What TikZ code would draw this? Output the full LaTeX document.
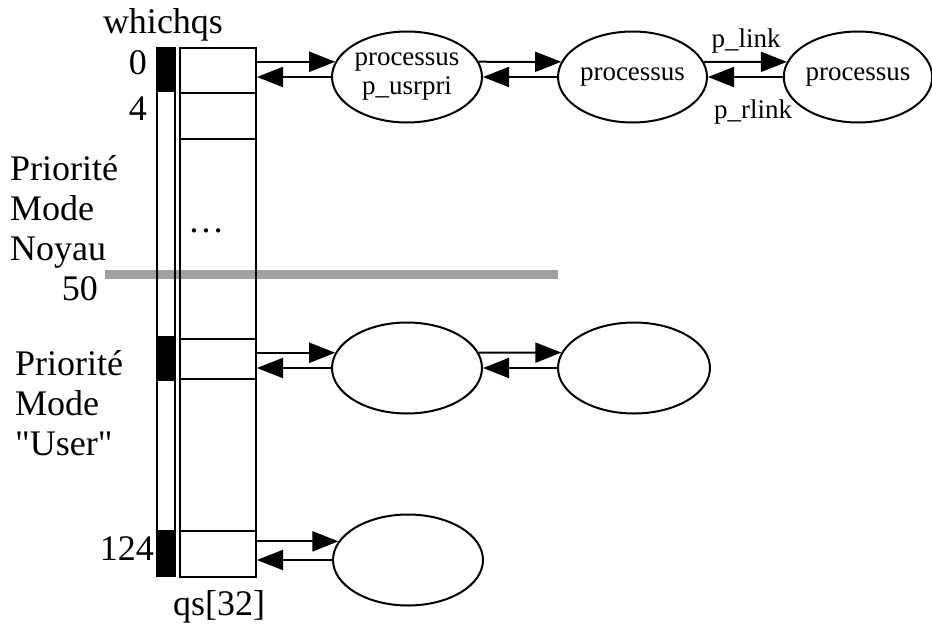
\documentclass[tikz,border=0pt]{standalone}
\usepackage{fontspec}
\setmainfont{Liberation Serif}
\usetikzlibrary{arrows.meta,shapes.geometric}
\definecolor{sepgray}{RGB}{160,160,160}
\begin{document}
\begin{tikzpicture}[x=1pt,y=-1pt,
  big/.style={font=\fontsize{36}{40}\selectfont, inner sep=0pt},
  small/.style={font=\fontsize{27}{29}\selectfont, inner sep=0pt},
  cell/.style={draw, line width=2pt, minimum width=76pt, inner sep=0pt},
  proc/.style={draw, ellipse, line width=2pt, minimum width=150pt, minimum height=91pt, inner sep=0pt, align=center, font=\fontsize{27}{29}\selectfont},
  link/.style={line width=2pt, -{Triangle[length=26pt,width=20pt]}},
]
\useasboundingbox (0,0) rectangle (932,624);

% separator between kernel and user priorities
\coordinate (sepL) at (105,274);
\coordinate (sepR) at (558,274);
\draw[line width=9pt, sepgray] (sepL) -- (sepR);

% whichqs bit column
\draw[line width=2pt] (157,48) rectangle (175,576);
\fill (156,47) rectangle (176,92);
\fill (156,336) rectangle (176,381);
\fill (156,530) rectangle (176,577);

% qs[32] column
\node[cell, minimum height=45pt]  (qs0)  at (218,70.5) {};
\node[cell, minimum height=46pt]  (qs1)  at (218,116) {};
\node[cell, minimum height=200pt] (qsm1) at (218,239) {};
\node[cell, minimum height=40pt]  (qs2)  at (218,359) {};
\node[cell, minimum height=152pt] (qsm2) at (218,455) {};
\node[cell, minimum height=46pt]  (qs3)  at (218,554) {};
\node[big, anchor=base] (dots) at (206,232) {\ldots};

% left labels
\node[big, anchor=base] (whichqs) at (163,33) {whichqs};
\node[big, anchor=base east] (n0) at (147,74) {0};
\node[big, anchor=base east] (n4) at (147,120) {4};
\node[big, anchor=base west] (k1) at (10,180) {Priorité};
\node[big, anchor=base west] (k2) at (10,220) {Mode};
\node[big, anchor=base west] (k3) at (10,260) {Noyau};
\node[big, anchor=base east] (n50) at (98,300) {50};
\node[big, anchor=base west] (u1) at (15,375) {Priorité};
\node[big, anchor=base west] (u2) at (15,415) {Mode};
\node[big, anchor=base west] (u3) at (15,455) {\addfontfeatures{Ligatures=TeXOff}"User"};
\node[big, anchor=base east] (n124) at (154,560) {124};
\node[big, anchor=base] (qslabel) at (219,615) {qs[32]};

% processes
\node[proc] (e1) at (407,77) {processus\\p\_usrpri};
\node[proc, minimum width=149pt] (e2) at (632.5,77) {processus};
\node[proc, minimum width=146pt] (e3) at (858,77) {processus};
\node[proc] (f1) at (407,368) {};
\node[proc, minimum width=152pt] (f2) at (634,368) {};
\node[proc] (g1) at (408,560) {};

% links
\draw[link] (e1.168 -| qs0.east) -- (e1.168);
\draw[link] (e1.west) -- (e1.west -| qs0.east);
\draw[link] (e1.12) -- (e2.168);
\draw[link] (e2.west) -- (e1.east);
\draw[link] (e2.12) -- (e3.168);
\draw[link] (e3.west) -- (e2.east);
\node[small, anchor=base] (plink) at (746,47) {p\_link};
\node[small, anchor=base] (prlink) at (753,118) {p\_rlink};

\draw[link] (f1.168 -| qs2.east) -- (f1.168);
\draw[link] (f1.west) -- (f1.west -| qs2.east);
\draw[link] (f1.12) -- (f2.168);
\draw[link] (f2.west) -- (f1.east);

\draw[link] (g1.165 -| qs3.east) -- (g1.165);
\draw[link] (g1.west) -- (g1.west -| qs3.east);
\end{tikzpicture}
\end{document}
